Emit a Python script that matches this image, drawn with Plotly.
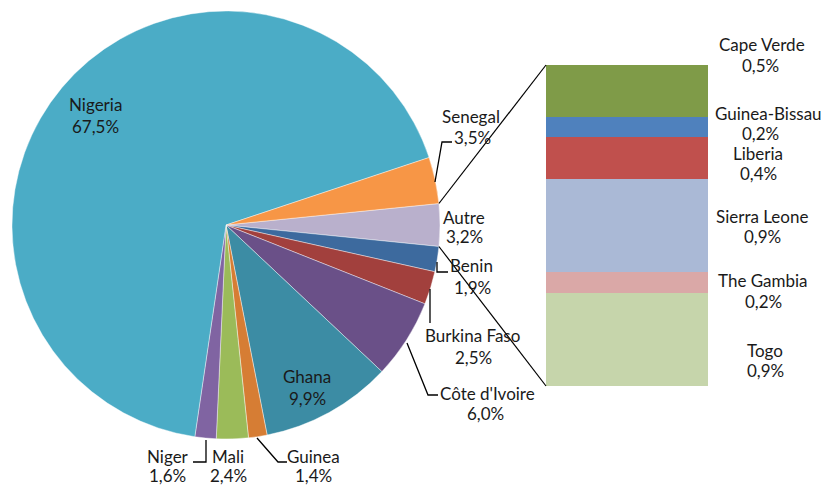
import math
import plotly.graph_objects as go

# Pie: countries in clockwise order, starting with the grouped "Autre" slice
pie_labels = ["Autre", "Benin", "Burkina Faso", "Côte d'Ivoire", "Ghana",
              "Guinea", "Mali", "Niger", "Nigeria", "Senegal"]
pie_values = [3.2, 1.9, 2.5, 6.0, 9.9, 1.4, 2.4, 1.6, 67.5, 3.5]
pie_colors = ["#B9B0CC", "#3D6A9E", "#A2403D", "#6A5088", "#3C8CA4",
              "#D67D34", "#9BBB59", "#8064A2", "#4BACC6", "#F79646"]

# Breakdown of "Autre", bottom to top
bar_labels = ["Togo", "The Gambia", "Sierra Leone", "Liberia", "Guinea-Bissau", "Cape Verde"]
bar_values = [0.9, 0.2, 0.9, 0.4, 0.2, 0.5]
bar_colors = ["#C6D5AB", "#DAA8A7", "#AAB9D6", "#C0504D", "#4F81BD", "#7F9B48"]

W, H = 823, 486
FONT = dict(family="Lato, Calibri, sans-serif", size=17, color="#1a1a1a")


def px(x):
    return x / W


def py(y):
    return 1 - y / H


# pie placement (pixels)
PIE_CX, PIE_CY, PIE_R = 226, 225, 214
# bar placement (pixels)
BAR_X0, BAR_X1, BAR_TOP, BAR_BOT = 546, 708, 65, 386

pie_total = sum(pie_values)
autre_span = 360 * pie_values[0] / pie_total
rotation = 90 - autre_span / 2

fig = go.Figure()

fig.add_trace(go.Pie(
    labels=pie_labels,
    values=pie_values,
    sort=False,
    direction="clockwise",
    rotation=rotation,
    marker=dict(colors=pie_colors, line=dict(color="rgba(255,255,255,0.7)", width=0.6)),
    textinfo="none",
    hoverinfo="label+percent",
    showlegend=False,
    domain=dict(x=[px(PIE_CX - PIE_R), px(PIE_CX + PIE_R)],
                y=[py(PIE_CY + PIE_R), py(PIE_CY - PIE_R)]),
))

for lab, val, col in zip(bar_labels, bar_values, bar_colors):
    fig.add_trace(go.Bar(
        x=[0], y=[val], name=lab, width=1,
        marker=dict(color=col, line=dict(width=0)),
        showlegend=False, hoverinfo="name+y",
    ))

bar_total = sum(bar_values)
fig.update_layout(
    width=W, height=H,
    margin=dict(l=0, r=0, t=0, b=0),
    paper_bgcolor="white", plot_bgcolor="rgba(0,0,0,0)",
    barmode="stack", bargap=0,
    xaxis=dict(domain=[px(BAR_X0), px(BAR_X1)], range=[-0.5, 0.5],
               visible=False, fixedrange=True),
    yaxis=dict(domain=[py(BAR_BOT), py(BAR_TOP)], range=[0, bar_total],
               visible=False, fixedrange=True),
    font=FONT,
)

shapes = []

# connector lines from the edges of the "Autre" slice to the bar corners
a0 = math.radians(rotation)
a1 = math.radians(rotation + autre_span)
for ang, by in ((a0, BAR_TOP), (a1, BAR_BOT)):
    sx = PIE_CX + PIE_R * math.sin(ang)
    sy = PIE_CY - PIE_R * math.cos(ang)
    shapes.append(dict(type="line", xref="paper", yref="paper",
                       x0=px(sx), y0=py(sy), x1=px(BAR_X0), y1=py(by),
                       line=dict(color="black", width=1.2)))

# leader lines for the outside labels
leaders = [
    [(435, 182), (442, 142), (452, 142)],   # Senegal
    [(437, 262), (437, 272), (448, 272)],   # Benin
    [(430, 289), (430, 323)],               # Burkina Faso
    [(407, 343), (428, 395), (438, 395)],   # Côte d'Ivoire
    [(257, 438), (278, 462), (287, 462)],   # Guinea
    [(206, 440), (206, 462), (193, 462)],   # Niger
]
for pts in leaders:
    path = "M " + " L ".join(f"{px(x):.5f},{py(y):.5f}" for x, y in pts)
    shapes.append(dict(type="path", xref="paper", yref="paper", path=path,
                       line=dict(color="black", width=1.3)))

fig.update_layout(shapes=shapes)

# label line centres in pixels: (name line), (value line)
label_pos = {
    "Nigeria": ((95, 105), (95, 127)),
    "Ghana": ((307, 376), (307, 398)),
    "Senegal": ((471, 116), (472, 137)),
    "Autre": ((464, 217), (464, 237)),
    "Benin": ((471, 265), (472, 287)),
    "Burkina Faso": ((472, 335), (473, 357)),
    "Côte d'Ivoire": ((487, 393), (486, 413)),
    "Guinea": ((313, 456), (313, 475)),
    "Mali": ((228, 456), (228, 475)),
    "Niger": ((168, 456), (167, 475)),
    "Cape Verde": ((762, 45), (760, 66)),
    "Guinea-Bissau": ((768, 113), (760, 133)),
    "Liberia": ((758, 153), (758, 173)),
    "Sierra Leone": ((762, 216), (762, 237)),
    "The Gambia": ((763, 280), (763, 301)),
    "Togo": ((765, 350), (765, 370)),
}


def fmt(v):
    return f"{v:.1f}".replace(".", ",") + "%"


annotations = []
for lab, val in list(zip(pie_labels, pie_values)) + list(zip(bar_labels, bar_values)):
    (nx, ny), (vx, vy) = label_pos[lab]
    for text, x, y in ((lab, nx, ny), (fmt(val), vx, vy)):
        annotations.append(dict(x=px(x), y=py(y), xref="paper", yref="paper",
                                text=text, showarrow=False, borderpad=0,
                                xanchor="center", yanchor="middle"))
fig.update_layout(annotations=annotations)

fig.write_html("out.html")
